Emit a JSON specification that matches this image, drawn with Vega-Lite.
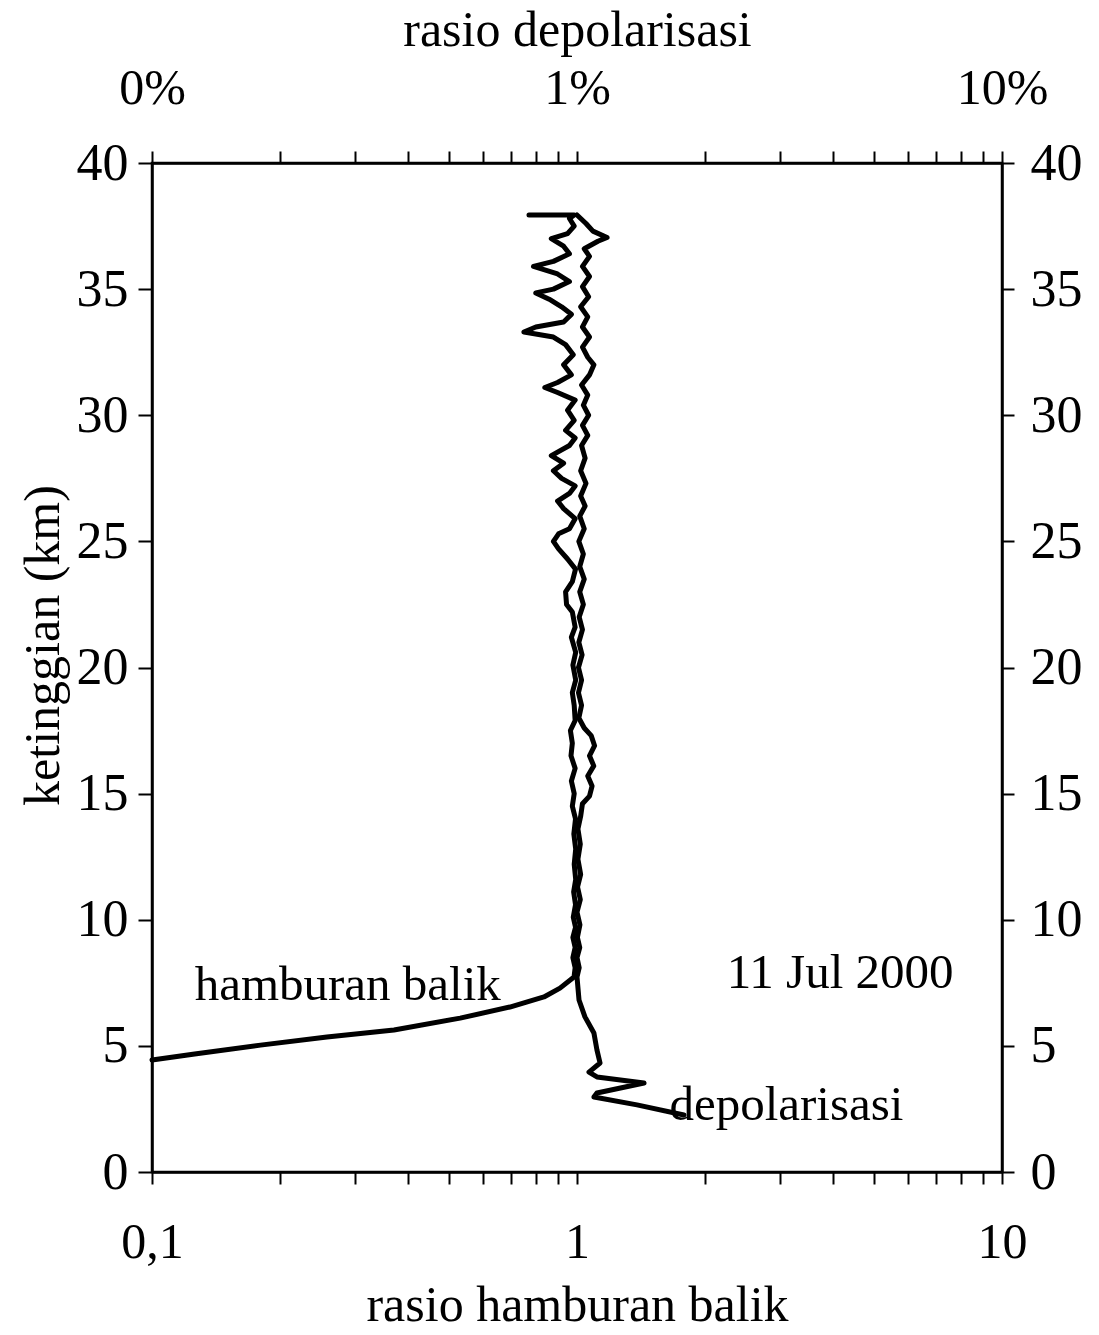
{
  "$schema": "https://vega.github.io/schema/vega-lite/v6.json",
  "autosize": {"type": "none"},
  "width": 850,
  "height": 1009,
  "padding": {"left": 152, "top": 163, "right": 97, "bottom": 163},
  "background": "white",
  "config": {
    "view": {"stroke": "black", "strokeWidth": 2.5},
    "font": "Liberation Serif",
    "axis": {
      "labelFont": "Liberation Serif",
      "titleFont": "Liberation Serif",
      "labelColor": "black",
      "titleColor": "black",
      "tickColor": "black",
      "domainColor": "black",
      "domainWidth": 2.5,
      "tickWidth": 2,
      "grid": false,
      "titleFontWeight": "normal",
      "labelOverlap": false,
      "labelBound": false,
      "labelFlush": false
    },
    "text": {"font": "Liberation Serif"}
  },
  "datasets": {
    "bs": [
      {"i": 0, "x": 0.100, "h": 4.44},
      {"i": 1, "x": 0.126, "h": 4.68},
      {"i": 2, "x": 0.180, "h": 5.03},
      {"i": 3, "x": 0.258, "h": 5.35},
      {"i": 4, "x": 0.371, "h": 5.63},
      {"i": 5, "x": 0.531, "h": 6.10},
      {"i": 6, "x": 0.695, "h": 6.54},
      {"i": 7, "x": 0.836, "h": 6.94},
      {"i": 8, "x": 0.912, "h": 7.29},
      {"i": 9, "x": 0.984, "h": 7.73},
      {"i": 10, "x": 0.990, "h": 8.1},
      {"i": 11, "x": 0.978, "h": 8.5},
      {"i": 12, "x": 0.990, "h": 8.9},
      {"i": 13, "x": 0.978, "h": 9.3},
      {"i": 14, "x": 0.992, "h": 9.7},
      {"i": 15, "x": 0.980, "h": 10.1},
      {"i": 16, "x": 0.992, "h": 10.6},
      {"i": 17, "x": 0.982, "h": 11.1},
      {"i": 18, "x": 0.993, "h": 11.6},
      {"i": 19, "x": 0.985, "h": 12.2},
      {"i": 20, "x": 0.993, "h": 12.8},
      {"i": 21, "x": 0.983, "h": 13.4},
      {"i": 22, "x": 0.992, "h": 14.0},
      {"i": 23, "x": 0.975, "h": 14.5},
      {"i": 24, "x": 0.985, "h": 15.0},
      {"i": 25, "x": 0.970, "h": 15.5},
      {"i": 26, "x": 0.990, "h": 16.0},
      {"i": 27, "x": 0.968, "h": 16.5},
      {"i": 28, "x": 0.975, "h": 17.0},
      {"i": 29, "x": 0.965, "h": 17.5},
      {"i": 30, "x": 0.990, "h": 17.9},
      {"i": 31, "x": 0.985, "h": 18.5},
      {"i": 32, "x": 0.975, "h": 19.0},
      {"i": 33, "x": 0.993, "h": 19.5},
      {"i": 34, "x": 0.978, "h": 20.1},
      {"i": 35, "x": 0.993, "h": 20.6},
      {"i": 36, "x": 0.970, "h": 21.2},
      {"i": 37, "x": 0.990, "h": 21.6},
      {"i": 38, "x": 0.975, "h": 22.2},
      {"i": 39, "x": 0.945, "h": 22.5},
      {"i": 40, "x": 0.940, "h": 23.0},
      {"i": 41, "x": 0.975, "h": 23.4},
      {"i": 42, "x": 0.992, "h": 23.9},
      {"i": 43, "x": 0.950, "h": 24.3},
      {"i": 44, "x": 0.905, "h": 24.7},
      {"i": 45, "x": 0.880, "h": 25.0},
      {"i": 46, "x": 0.905, "h": 25.3},
      {"i": 47, "x": 0.960, "h": 25.5},
      {"i": 48, "x": 0.990, "h": 25.9},
      {"i": 49, "x": 0.930, "h": 26.3},
      {"i": 50, "x": 0.900, "h": 26.6},
      {"i": 51, "x": 0.960, "h": 26.9},
      {"i": 52, "x": 0.990, "h": 27.2},
      {"i": 53, "x": 0.920, "h": 27.5},
      {"i": 54, "x": 0.880, "h": 27.8},
      {"i": 55, "x": 0.930, "h": 28.1},
      {"i": 56, "x": 0.870, "h": 28.4},
      {"i": 57, "x": 0.960, "h": 28.8},
      {"i": 58, "x": 0.990, "h": 29.1},
      {"i": 59, "x": 0.940, "h": 29.4},
      {"i": 60, "x": 0.985, "h": 29.8},
      {"i": 61, "x": 0.950, "h": 30.2},
      {"i": 62, "x": 0.990, "h": 30.6},
      {"i": 63, "x": 0.900, "h": 30.9},
      {"i": 64, "x": 0.840, "h": 31.1},
      {"i": 65, "x": 0.900, "h": 31.3},
      {"i": 66, "x": 0.970, "h": 31.6},
      {"i": 67, "x": 0.930, "h": 32.0},
      {"i": 68, "x": 0.980, "h": 32.4},
      {"i": 69, "x": 0.940, "h": 32.8},
      {"i": 70, "x": 0.880, "h": 33.1},
      {"i": 71, "x": 0.750, "h": 33.3},
      {"i": 72, "x": 0.800, "h": 33.5},
      {"i": 73, "x": 0.930, "h": 33.7},
      {"i": 74, "x": 0.970, "h": 34.0},
      {"i": 75, "x": 0.920, "h": 34.3},
      {"i": 76, "x": 0.860, "h": 34.6},
      {"i": 77, "x": 0.800, "h": 34.85},
      {"i": 78, "x": 0.880, "h": 35.0},
      {"i": 79, "x": 0.960, "h": 35.3},
      {"i": 80, "x": 0.900, "h": 35.6},
      {"i": 81, "x": 0.790, "h": 35.9},
      {"i": 82, "x": 0.880, "h": 36.1},
      {"i": 83, "x": 0.960, "h": 36.4},
      {"i": 84, "x": 0.930, "h": 36.7},
      {"i": 85, "x": 0.870, "h": 37.0},
      {"i": 86, "x": 0.950, "h": 37.2},
      {"i": 87, "x": 0.985, "h": 37.5},
      {"i": 88, "x": 0.960, "h": 37.8},
      {"i": 89, "x": 0.985, "h": 37.94},
      {"i": 90, "x": 0.771, "h": 37.94}
    ],
    "dp": [
      {"i": 0, "x": 1.785, "h": 2.26},
      {"i": 1, "x": 1.384, "h": 2.66},
      {"i": 2, "x": 1.096, "h": 2.97},
      {"i": 3, "x": 1.114, "h": 3.13},
      {"i": 4, "x": 1.438, "h": 3.53},
      {"i": 5, "x": 1.114, "h": 3.77},
      {"i": 6, "x": 1.067, "h": 3.96},
      {"i": 7, "x": 1.133, "h": 4.32},
      {"i": 8, "x": 1.114, "h": 4.84},
      {"i": 9, "x": 1.096, "h": 5.51},
      {"i": 10, "x": 1.044, "h": 6.15},
      {"i": 11, "x": 1.011, "h": 6.82},
      {"i": 12, "x": 1.000, "h": 7.73},
      {"i": 13, "x": 1.012, "h": 8.1},
      {"i": 14, "x": 1.000, "h": 8.5},
      {"i": 15, "x": 1.015, "h": 8.9},
      {"i": 16, "x": 1.002, "h": 9.3},
      {"i": 17, "x": 1.016, "h": 9.8},
      {"i": 18, "x": 1.000, "h": 10.3},
      {"i": 19, "x": 1.018, "h": 10.8},
      {"i": 20, "x": 1.003, "h": 11.3},
      {"i": 21, "x": 1.020, "h": 11.8},
      {"i": 22, "x": 1.005, "h": 12.4},
      {"i": 23, "x": 1.018, "h": 13.0},
      {"i": 24, "x": 1.005, "h": 13.6},
      {"i": 25, "x": 1.020, "h": 14.1},
      {"i": 26, "x": 1.030, "h": 14.6},
      {"i": 27, "x": 1.070, "h": 14.9},
      {"i": 28, "x": 1.085, "h": 15.3},
      {"i": 29, "x": 1.060, "h": 15.7},
      {"i": 30, "x": 1.095, "h": 16.1},
      {"i": 31, "x": 1.070, "h": 16.5},
      {"i": 32, "x": 1.100, "h": 16.9},
      {"i": 33, "x": 1.080, "h": 17.3},
      {"i": 34, "x": 1.040, "h": 17.6},
      {"i": 35, "x": 1.010, "h": 18.0},
      {"i": 36, "x": 1.025, "h": 18.5},
      {"i": 37, "x": 1.008, "h": 19.0},
      {"i": 38, "x": 1.025, "h": 19.5},
      {"i": 39, "x": 1.008, "h": 20.0},
      {"i": 40, "x": 1.028, "h": 20.5},
      {"i": 41, "x": 1.010, "h": 21.0},
      {"i": 42, "x": 1.030, "h": 21.5},
      {"i": 43, "x": 1.012, "h": 22.0},
      {"i": 44, "x": 1.035, "h": 22.5},
      {"i": 45, "x": 1.015, "h": 23.0},
      {"i": 46, "x": 1.040, "h": 23.5},
      {"i": 47, "x": 1.015, "h": 24.0},
      {"i": 48, "x": 1.035, "h": 24.5},
      {"i": 49, "x": 1.010, "h": 25.0},
      {"i": 50, "x": 1.040, "h": 25.5},
      {"i": 51, "x": 1.015, "h": 26.0},
      {"i": 52, "x": 1.045, "h": 26.4},
      {"i": 53, "x": 1.020, "h": 26.8},
      {"i": 54, "x": 1.050, "h": 27.3},
      {"i": 55, "x": 1.020, "h": 27.8},
      {"i": 56, "x": 1.045, "h": 28.3},
      {"i": 57, "x": 1.025, "h": 28.8},
      {"i": 58, "x": 1.060, "h": 29.2},
      {"i": 59, "x": 1.030, "h": 29.6},
      {"i": 60, "x": 1.065, "h": 30.0},
      {"i": 61, "x": 1.035, "h": 30.4},
      {"i": 62, "x": 1.060, "h": 30.8},
      {"i": 63, "x": 1.025, "h": 31.2},
      {"i": 64, "x": 1.070, "h": 31.6},
      {"i": 65, "x": 1.096, "h": 32.0},
      {"i": 66, "x": 1.060, "h": 32.3},
      {"i": 67, "x": 1.030, "h": 32.7},
      {"i": 68, "x": 1.070, "h": 33.1},
      {"i": 69, "x": 1.030, "h": 33.5},
      {"i": 70, "x": 1.060, "h": 33.9},
      {"i": 71, "x": 1.020, "h": 34.3},
      {"i": 72, "x": 1.065, "h": 34.7},
      {"i": 73, "x": 1.030, "h": 35.1},
      {"i": 74, "x": 1.070, "h": 35.5},
      {"i": 75, "x": 1.030, "h": 35.9},
      {"i": 76, "x": 1.070, "h": 36.3},
      {"i": 77, "x": 1.040, "h": 36.6},
      {"i": 78, "x": 1.120, "h": 36.9},
      {"i": 79, "x": 1.177, "h": 37.05},
      {"i": 80, "x": 1.090, "h": 37.3},
      {"i": 81, "x": 1.050, "h": 37.6},
      {"i": 82, "x": 1.000, "h": 37.94}
    ],
    "notes": [
      {"x": 0.126, "h": 6.82, "label": "hamburan balik"},
      {"x": 2.25, "h": 7.29, "label": "11 Jul 2000"},
      {"x": 1.65, "h": 2.06, "label": "depolarisasi"}
    ]
  },
  "resolve": {"axis": {"x": "independent", "y": "independent"}},
  "layer": [
    {
      "data": {"name": "bs"},
      "mark": {"type": "line", "color": "black", "strokeWidth": 5, "strokeJoin": "round", "strokeCap": "round"},
      "encoding": {
        "x": {
          "field": "x", "type": "quantitative",
          "scale": {"type": "log", "domain": [0.1, 10], "nice": false},
          "axis": {
            "orient": "bottom",
            "values": [0.1, 0.2, 0.3, 0.4, 0.5, 0.6, 0.7, 0.8, 0.9, 1, 2, 3, 4, 5, 6, 7, 8, 9, 10],
            "labelExpr": "datum.value == 0.1 ? '0,1' : datum.value == 1 ? '1' : datum.value == 10 ? '10' : ''",
            "title": "rasio hamburan balik",
            "tickSize": 12,
            "labelPadding": 73,
            "labelBaseline": "alphabetic",
            "labelFontSize": 50,
            "titleFontSize": 50,
            "titleY": 148,
            "titleBaseline": "alphabetic"
          }
        },
        "y": {
          "field": "h", "type": "quantitative",
          "scale": {"domain": [0, 40], "nice": false},
          "axis": {
            "orient": "left",
            "values": [0, 5, 10, 15, 20, 25, 30, 35, 40],
            "title": "ketinggian (km)",
            "tickSize": 14,
            "labelPadding": 10,
            "labelFontSize": 52,
            "titleFontSize": 50,
            "titleX": -84,
            "titleY": 482,
            "titleBaseline": "bottom",
            "titleAngle": -90
          }
        },
        "order": {"field": "i", "type": "quantitative"}
      }
    },
    {
      "data": {"name": "dp"},
      "mark": {"type": "line", "color": "black", "strokeWidth": 5, "strokeJoin": "round", "strokeCap": "round"},
      "encoding": {
        "x": {
          "field": "x", "type": "quantitative",
          "axis": {
            "orient": "top",
            "values": [0.1, 0.2, 0.3, 0.4, 0.5, 0.6, 0.7, 0.8, 0.9, 1, 2, 3, 4, 5, 6, 7, 8, 9, 10],
            "labelExpr": "datum.value == 0.1 ? '0%' : datum.value == 1 ? '1%' : datum.value == 10 ? '10%' : ''",
            "title": "rasio depolarisasi",
            "tickSize": 12,
            "labelPadding": 48,
            "labelBaseline": "alphabetic",
            "labelFontSize": 50,
            "titleFontSize": 50,
            "titleY": -118,
            "titleBaseline": "alphabetic"
          }
        },
        "y": {
          "field": "h", "type": "quantitative",
          "axis": {
            "orient": "right",
            "values": [0, 5, 10, 15, 20, 25, 30, 35, 40],
            "title": null,
            "tickSize": 12,
            "labelPadding": 16,
            "labelFontSize": 52
          }
        },
        "order": {"field": "i", "type": "quantitative"}
      }
    },
    {
      "data": {"name": "notes"},
      "mark": {"type": "text", "align": "left", "baseline": "alphabetic", "fontSize": 49, "color": "black", "font": "Liberation Serif"},
      "encoding": {
        "x": {"field": "x", "type": "quantitative", "axis": null},
        "y": {"field": "h", "type": "quantitative", "axis": null},
        "text": {"field": "label", "type": "nominal"}
      }
    }
  ]
}
